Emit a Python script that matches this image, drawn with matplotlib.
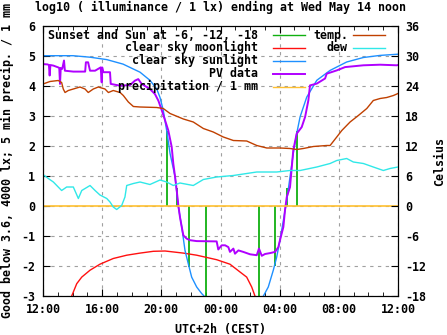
import matplotlib
matplotlib.use('Agg')
import matplotlib.pyplot as plt

plt.rcParams['font.family'] = ['DejaVu Sans Mono']
plt.rcParams['font.weight'] = 'bold'
plt.rcParams['font.size'] = 8.4
plt.rcParams['axes.unicode_minus'] = False

# time axis: hours counted from 12:00 on the previous day (36 = noon today)
hour_ticks = [12, 16, 20, 24, 28, 32, 36]
hour_labels = ['12:00', '16:00', '20:00', '00:00', '04:00', '08:00', '12:00']

# sunset / sun at -6, -12, -18 (evening then morning), with line heights
sun_times = [20.40, 21.08, 21.87, 22.99, 26.62, 27.71, 28.52, 29.19]
sun_levels = [2.5, 0.6, -2.03, -3.5, -3.5, -2.0, 0.6, 2.5]

# clear sky sunlight, log10 lx
sun_t = [12.00, 14.03, 15.18, 16.31, 17.41, 18.56, 19.23, 19.69, 19.91, 20.13,
         20.36, 20.59, 20.93, 21.15, 21.38, 21.60, 21.82, 22.05, 22.39, 22.73,
         22.89, 23.20, 26.60, 26.90, 27.23, 27.57, 27.80, 28.02, 28.25, 28.48,
         28.70, 28.92, 29.15, 29.38, 29.83, 30.51, 31.41, 32.53, 33.66, 34.79, 36.00]
sun_lx = [5.01, 5.01, 4.96, 4.88, 4.73, 4.46, 4.19, 3.90, 3.62, 3.19,
          2.52, 1.75, 0.97, -0.03, -0.70, -1.48, -1.92, -2.37, -2.70, -2.92,
          -3.00, -3.50, -3.50, -3.00, -2.70, -2.14, -1.70, -1.14, -0.48, 0.19,
          0.97, 1.75, 2.41, 2.97, 3.63, 4.19, 4.52, 4.80, 4.95, 5.02, 5.06]

# clear sky moonlight, log10 lx
moon_t = [13.80, 13.94, 14.28, 14.62, 15.18, 15.85, 16.75, 17.66, 18.56, 19.46,
          20.25, 21.49, 22.39, 23.74, 24.64, 25.32, 25.77, 26.11, 26.33, 26.50]
moon_lx = [-3.3, -3.00, -2.59, -2.37, -2.14, -1.94, -1.75, -1.64, -1.57, -1.51,
           -1.50, -1.57, -1.64, -1.79, -1.94, -2.20, -2.37, -2.70, -3.00, -3.3]

# PV data, log10 lx
pv_t = [12.00, 12.30, 12.40, 12.45, 12.50, 12.70, 13.03, 13.10, 13.15, 13.20,
        13.30, 13.42, 13.48, 14.05, 14.85, 14.90, 15.05, 15.10, 15.18, 15.52,
        15.90, 15.97, 16.00, 16.08, 16.53, 16.58, 17.21, 17.88, 18.22, 18.44,
        18.67, 19.23, 19.57, 19.80, 20.03, 20.25, 20.47, 20.70, 20.81, 20.93,
        21.04, 21.15, 21.26, 21.38, 21.49, 21.72, 21.94, 22.39, 23.74, 23.85,
        24.08, 24.31, 24.53, 24.64, 24.87, 24.98, 25.21, 25.54, 26.00, 26.45,
        26.60, 26.79, 27.01, 27.35, 27.69, 27.91, 28.02, 28.25, 28.36, 28.48,
        28.70, 28.82, 28.92, 29.15, 29.49, 29.72, 29.94, 30.05, 30.51, 31.07,
        31.18, 31.86, 32.42, 33.66, 34.79, 35.92, 36.00]
pv_lx = [4.73, 4.72, 4.70, 4.35, 4.70, 4.68, 4.62, 4.60, 4.07, 4.60,
         4.57, 4.85, 4.51, 4.48, 4.48, 4.79, 4.79, 4.68, 4.51, 4.51,
         4.62, 4.12, 4.62, 4.46, 4.46, 4.07, 4.01, 4.03, 4.18, 4.23,
         4.07, 3.90, 3.73, 3.51, 3.19, 2.86, 2.52, 1.97, 1.41, 0.97,
         0.52, 0.02, -0.37, -0.70, -0.98, -1.09, -1.14, -1.17, -1.18, -1.45,
         -1.31, -1.31, -1.37, -1.53, -1.42, -1.59, -1.48, -1.53, -1.61, -1.64,
         -1.42, -1.66, -1.60, -1.57, -1.53, -1.37, -1.14, -0.70, -0.14, 0.30,
         0.63, 1.30, 1.86, 2.41, 2.63, 2.97, 3.52, 4.02, 4.08, 4.25,
         4.41, 4.52, 4.63, 4.69, 4.71, 4.69, 4.70]

# precipitation / 1 mm
rain_t = [12.0, 36.0]
rain_mm = [0.0, 0.0]

# temperature, Celsius
temp_t = [12.00, 12.47, 13.03, 13.26, 13.37, 13.49, 13.71, 14.05, 14.50, 14.84,
          15.06, 15.40, 15.74, 16.19, 16.42, 16.75, 17.21, 17.43, 17.77, 18.11,
          18.56, 19.69, 20.13, 20.59, 21.49, 22.16, 22.84, 23.51, 24.19, 24.87,
          25.77, 26.45, 27.13, 28.02, 28.70, 29.15, 29.60, 30.28, 31.18, 31.41,
          31.86, 32.20, 32.76, 33.32, 33.89, 34.33, 34.79, 35.24, 35.69, 36.00]
temp_c = [24.4, 24.9, 25.1, 24.7, 23.4, 22.7, 23.1, 23.4, 23.8, 23.4,
          22.7, 23.4, 23.8, 23.4, 22.7, 23.1, 22.7, 22.1, 20.8, 19.9,
          19.8, 19.7, 19.5, 18.5, 17.4, 16.8, 15.5, 14.8, 13.8, 13.1,
          13.0, 12.1, 11.6, 11.6, 11.5, 11.3, 11.5, 11.9, 12.1, 12.1,
          13.8, 15.1, 16.8, 18.1, 19.5, 21.1, 21.5, 21.7, 22.1, 22.5]

# dew point, Celsius
dew_t = [12.00, 12.36, 12.70, 12.93, 13.26, 13.60, 14.05, 14.39, 14.62, 15.18,
         15.52, 15.85, 16.31, 16.53, 16.75, 16.98, 17.32, 17.54, 17.66, 18.11,
         18.56, 19.23, 19.91, 20.36, 20.81, 21.26, 22.16, 22.84, 23.74, 24.87,
         26.45, 27.80, 28.70, 29.38, 30.51, 31.41, 31.86, 32.53, 32.98, 33.66,
         34.33, 35.01, 35.46, 36.00]
dew_c = [6.3, 5.5, 4.8, 4.1, 3.1, 3.8, 3.8, 1.5, 3.1, 4.1,
         3.1, 2.2, 1.5, 0.8, -0.2, -0.7, 0.1, 1.8, 4.1, 4.5,
         4.8, 4.3, 5.2, 4.8, 4.1, 4.6, 4.1, 5.3, 5.8, 6.1,
         6.8, 6.8, 7.1, 7.1, 7.8, 8.5, 9.1, 9.5, 8.8, 8.5,
         7.8, 7.1, 7.5, 7.8]

c_sun_set = '#10b010'
c_moon = '#ff1010'
c_sun = '#1e90ff'
c_pv = '#b000ff'
c_rain = '#ffc030'
c_temp = '#c04000'
c_dew = '#30e8e8'

fig = plt.figure(figsize=(4.47, 3.35), dpi=100)
ax = fig.add_axes([43 / 447, 39 / 335, 355 / 447, 270 / 335])
ax2 = ax.twinx()

ax.grid(True, color='#a0a0a0', linestyle=(0, (3, 4)), linewidth=0.8)
ax.vlines(sun_times, 0, sun_levels, color=c_sun_set, linewidth=1.3)
ax.plot(moon_t, moon_lx, color=c_moon, linewidth=1)
ax.plot(sun_t, sun_lx, color=c_sun, linewidth=1)
ax.plot(pv_t, pv_lx, color=c_pv, linewidth=1.4)
ax.plot(rain_t, rain_mm, color=c_rain, linewidth=1.2)
ax2.plot(temp_t, temp_c, color=c_temp, linewidth=1)
ax2.plot(dew_t, dew_c, color=c_dew, linewidth=1)

ax.set_xlim(12, 36)
ax.set_ylim(-3, 6)
ax2.set_ylim(-18, 36)
ax.set_xticks(hour_ticks)
ax.set_xticklabels(hour_labels)
ax.set_xticks(range(12, 37), minor=True)
ax.set_yticks(range(-3, 7))
ax2.set_yticks(range(-18, 37, 6))
ax.tick_params(axis='x', which='both', direction='in', top=True, pad=5)
ax.tick_params(axis='x', which='major', length=5)
ax.tick_params(axis='x', which='minor', length=3)
ax.tick_params(axis='y', direction='in', length=5, pad=5.5)
ax2.tick_params(axis='y', direction='in', length=5, pad=5)

ax.set_title('log10 ( illuminance / 1 lx) ending at Wed May 14 noon',
             fontsize=8.4, fontweight='bold', pad=11)
ax.set_xlabel('UTC+2h (CEST)', fontweight='bold', labelpad=5)
ax.set_ylabel('Good below 3.6, 4000 lx; 5 min precip. / 1 mm', fontweight='bold', labelpad=5)
ax2.set_ylabel('Celsius', fontweight='bold', labelpad=5)

# key, two columns, text right-aligned before the line sample
key_rows = [0.9656, 0.9193, 0.8712, 0.8232, 0.7751]
left_key = [('Sunset and Sun at -6, -12, -18', c_sun_set), ('clear sky moonlight', c_moon),
            ('clear sky sunlight', c_sun), ('PV data', c_pv), ('precipitation / 1 mm', c_rain)]
right_key = [('temp.', c_temp), ('dew', c_dew)]
for (label, col), yy in zip(left_key, key_rows):
    ax2.text(0.6056, yy, label, transform=ax2.transAxes, ha='right', va='center',
             fontweight='bold')
    ax2.plot([0.6487, 0.738], [yy, yy], transform=ax2.transAxes, color=col,
             linewidth=1.4 if col == c_pv else 1)
for (label, col), yy in zip(right_key, key_rows):
    ax2.text(0.859, yy, label, transform=ax2.transAxes, ha='right', va='center',
             fontweight='bold')
    ax2.plot([0.874, 0.963], [yy, yy], transform=ax2.transAxes, color=col, linewidth=1)

fig.savefig('out.png', dpi=100)
